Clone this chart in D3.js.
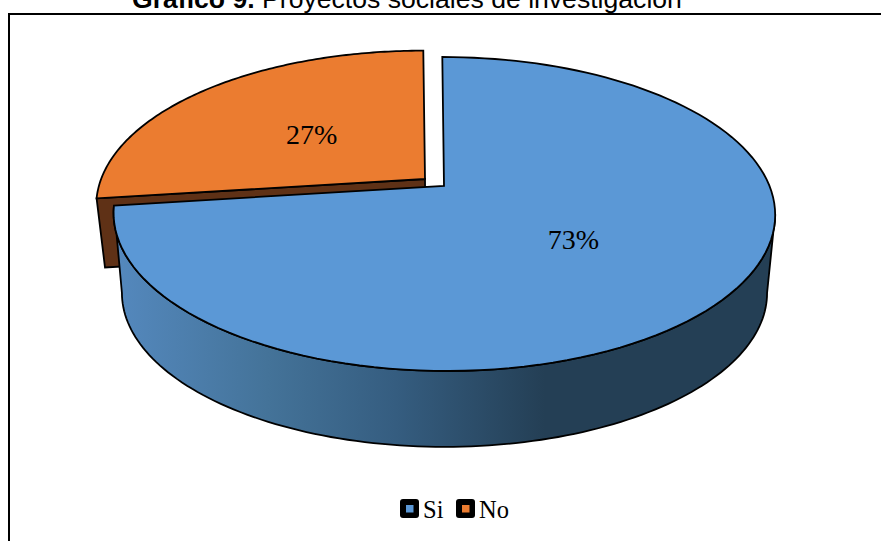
<!DOCTYPE html>
<html><head><meta charset="utf-8">
<script src="https://cdn.jsdelivr.net/npm/d3@7"></script>
<style>html,body{margin:0;padding:0;background:#fff;overflow:hidden}svg{display:block}</style>
</head><body><div id="c"></div>
<script>
const categories = ["Si", "No"];
const values = [73, 27];
const colors = ["#5B98D6", "#EB7C30"];
const labels = ["73%", "27%"];
const W = 881, H = 541;

const svg = d3.select("#c").append("svg").attr("width", W).attr("height", H);
const defs = svg.append("defs");
const grad = defs.append("linearGradient").attr("id", "wall").attr("gradientUnits", "userSpaceOnUse")
  .attr("x1", 118).attr("x2", 545).attr("y1", 0).attr("y2", 0);
[[0, "#5488bd"], [0.35, "#447399"], [0.65, "#355d80"], [1, "#243f55"]].forEach(s =>
  grad.append("stop").attr("offset", s[0]).attr("stop-color", s[1]));

// frame (runs off the right and bottom of the crop)
svg.append("rect").attr("x", 9).attr("y", 14).attr("width", W + 20).attr("height", H + 20)
  .attr("fill", "none").attr("stroke", "#000").attr("stroke-width", 2);

// title, cut by the top of the picture as in the reference
const title = svg.append("text").attr("x", 132).attr("y", 8)
  .style("font-family", "'Liberation Sans',Arial,sans-serif").style("font-size", "26.6px").attr("fill", "#000");
title.append("tspan").attr("font-weight", "bold").text("Gráfico 9.");
title.append("tspan").text(" Proyectos sociales de investigación");

// perspective mapping of a pie angle and radius fraction on a disc
const k = 0.1784;
const topDisc = { cx: 444, cy: 186, A: 152, B: 325.5, q: -2 };
const botDisc = { cx: 444.5, cy: 265.5, A: 149, B: 317.4, q: 0 };
function project(d, a, t = 1, o = { dx: 0, dy: 0, m: 1 }) {
  const x = Math.sin(a) * t, z = Math.cos(a) * t, s = 1 / (1 + k * z);
  return [d.cx + o.dx + (d.B * o.m * x + d.q * z) * s, d.cy + o.dy - d.A * o.m * z * s];
}
const arcs = d3.pie().sort(null).value(v => v)(values);
const blue = arcs[0], orange = arcs[1];
const line = d3.line();
const sweep = (d, a0, a1, o) => d3.range(0, 121).map(i => project(d, a0 + (a1 - a0) * i / 120, 1, o));
const outline = { stroke: "#000", "stroke-width": 1.8, "stroke-linejoin": "miter" };
const draw = (pts, fill) => {
  const p = svg.append("path").attr("d", line(pts) + "Z").attr("fill", fill);
  Object.entries(outline).forEach(([n, v]) => p.attr(n, v));
  return p;
};

// exploded slice offsets
const oTop = { dx: -19, dy: -7, m: 0.995 };
const oBot = { dx: -19, dy: -17, m: 0.995 };

// orange side wall, then orange top
draw([project(topDisc, orange.startAngle, 0, oTop), project(topDisc, orange.startAngle, 1, oTop),
      project(botDisc, orange.startAngle, 1, oBot), project(botDisc, orange.startAngle, 0, oBot)], "#5F3116");
draw([project(topDisc, 0, 0, oTop), ...sweep(topDisc, orange.startAngle, orange.endAngle, oTop)], colors[1]);

// blue outer wall between the silhouette angles
const aR = Math.PI - Math.asin(Math.sqrt(1 - k * k));
const aL = 2 * Math.PI - aR;
draw([...sweep(topDisc, blue.endAngle, aR), ...sweep(botDisc, aR, aL)], "url(#wall)");
// blue top
draw([project(topDisc, 0, 0), ...sweep(topDisc, blue.startAngle, blue.endAngle)], colors[0]);

// value labels
const labelNudge = [[-1, 0], [2, 2.5]];
const labelStyle = t => t.style("font-family", "'Liberation Serif',serif").style("font-size", "28px").attr("fill", "#000");
[[blue, undefined], [orange, oTop]].forEach(([a, o], i) => {
  const [x, y] = project(topDisc, (a.startAngle + a.endAngle) / 2, 0.5, o);
  labelStyle(svg.append("text").attr("x", x + labelNudge[i][0]).attr("y", y + labelNudge[i][1]).attr("text-anchor", "middle")
    .attr("dominant-baseline", "central").text(labels[i]));
});

// legend
const legend = d3.scaleOrdinal().domain(categories).range([400, 456]);
categories.forEach((c, i) => {
  const g = svg.append("g").attr("transform", `translate(${legend(c)},499)`);
  g.append("rect").attr("width", 19).attr("height", 19).attr("rx", 3).attr("fill", "#000");
  g.append("rect").attr("x", 6).attr("y", 6).attr("width", 7.5).attr("height", 7.5).attr("fill", colors[i]);
  labelStyle(svg.append("text").attr("x", legend(c) + 23).attr("y", 518).text(c)).style("font-size", "24.5px");
});
</script></body></html>
